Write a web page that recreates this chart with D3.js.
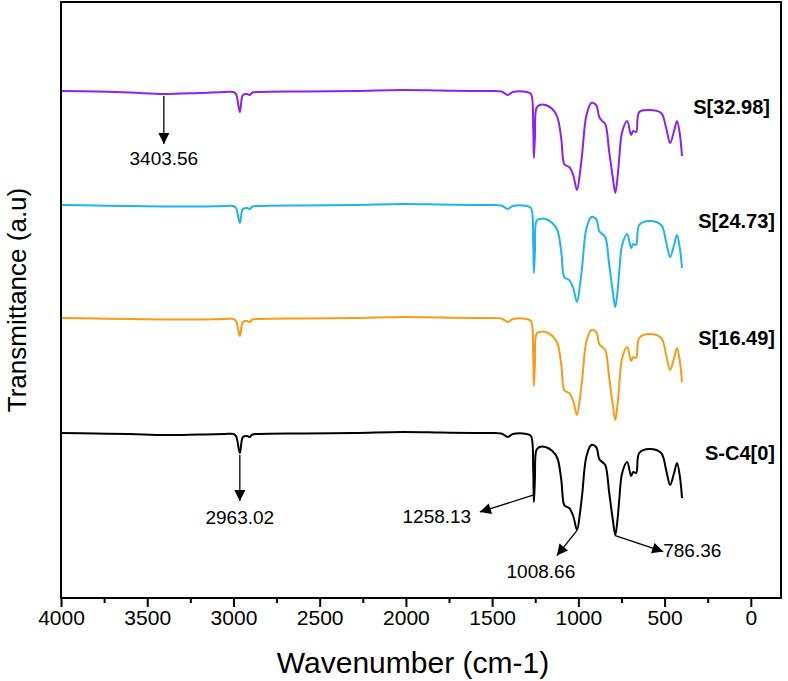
<!DOCTYPE html>
<html>
<head>
<meta charset="utf-8">
<script src="https://cdn.jsdelivr.net/npm/d3@7"></script>
<style>
  body { margin: 0; background: #fff; }
  text { font-family: "Liberation Sans", Arial, sans-serif; }
</style>
</head>
<body>
<div id="display"></div>
<script>
// FTIR spectra, wavenumber grid shared by all series
const wavenumbers = [4000, 3800, 3600, 3403, 3200, 3050, 3000, 2985, 2963, 2945, 2920, 2905, 2890, 2850,
    2600, 2300, 2020, 1800, 1600, 1500, 1440, 1411, 1380, 1300, 1275, 1262, 1258, 1252, 1243, 1225,
    1190, 1151, 1122, 1099, 1082, 1065, 1053, 1030, 1008, 990, 977, 954, 925, 897, 879, 862, 844,
    821, 800, 786, 772, 763, 746, 717, 694, 682, 665, 647, 589, 520, 491, 468, 445, 428, 411, 399];

const sc4 = [165, 164.5, 164, 163, 163.5, 164, 164, 162, 145, 161, 162, 161, 163.5, 164,
    164.5, 165, 166, 165.5, 165, 165, 164, 161, 164, 164, 162, 128, 96, 118, 148, 151,
    151, 147, 140, 118, 93, 91, 90, 82, 68, 86, 105, 141, 153, 151, 139, 136, 133,
    105, 78, 63, 80, 98, 125, 136, 122, 126, 125, 145, 149, 145, 128, 113, 125, 135, 121, 100];

const s1649 = [280, 279.5, 279, 278.5, 278.5, 279, 279, 277, 262, 276, 277, 276, 278.5, 279,
    279.5, 280, 281, 280.5, 280, 280, 279, 276, 279, 279, 277, 243, 212, 233, 264, 266,
    266, 262, 255, 233, 208, 206, 205, 197, 183, 201, 220, 256, 268, 266, 254, 251, 248,
    220, 193, 178, 195, 213, 240, 251, 237, 241, 240, 260, 264, 260, 243, 228, 240, 250, 236, 216];

const s2473 = [393, 392.5, 392, 391.5, 391.5, 392, 392, 390, 375, 389, 390, 389, 391.5, 392,
    392.5, 393, 394, 393.5, 393, 393, 392, 389, 392, 392, 390, 356, 325, 346, 377, 379,
    379, 375, 368, 346, 321, 319, 318, 310, 296, 314, 333, 369, 381, 379, 367, 364, 361,
    333, 306, 291, 308, 326, 353, 364, 350, 354, 353, 373, 377, 373, 356, 341, 353, 363, 349, 330];

const s3298 = [507, 506.5, 505.5, 504, 505, 506, 506, 504, 486, 503, 504, 503, 505.5, 506,
    506.5, 507, 508, 507.5, 507, 507, 506, 503, 506, 506, 504, 470, 440, 460, 490, 493,
    493, 489, 481, 459, 434, 432, 431, 423, 408, 426, 446, 482, 495, 493, 481, 477, 474,
    446, 420, 405, 422, 440, 466, 477, 463, 467, 466, 486, 488, 485, 470, 455, 467, 477, 463, 442];

const seriesNames = ["S-C4[0]", "S[16.49]", "S[24.73]", "S[32.98]"];
const seriesValues = [sc4, s1649, s2473, s3298];
const seriesColors = ["#000000", "#fb9a16", "#1db4f0", "#8c22f2"];

const xTicks = [4000, 3500, 3000, 2500, 2000, 1500, 1000, 500, 0];
const xMinor = [3750, 3250, 2750, 2250, 1750, 1250, 750, 250];

// peak annotations: [wavenumber, series index, label]
const peaks = [[3403.56, 3, "3403.56"], [2963.02, 0, "2963.02"], [1258.13, 0, "1258.13"],
    [1008.66, 0, "1008.66"], [786.36, 0, "786.36"]];

const W = 788, H = 681;
const plotL = 61, plotR = 781, plotT = 2, plotB = 598;

const svg = d3.select('#display')
    .append('svg')
    .attr('width', W)
    .attr('height', H);

const x = d3.scaleLinear().domain([4000, -175]).range([plotL, plotR]);
const y = d3.scaleLinear().domain([0, 596]).range([plotB, plotT]);

function valueAt(vals, w) {
    // read the series at wavenumber w from the grid
    for (let i = 0; i < wavenumbers.length - 1; i++) {
        const a = wavenumbers[i], b = wavenumbers[i + 1];
        if (w <= a && w >= b) {
            const t = (a - w) / (a - b);
            return vals[i] + t * (vals[i + 1] - vals[i]);
        }
    }
    return vals[vals.length - 1];
}

const line = d3.line()
    .x(d => x(d[0]))
    .y(d => y(d[1]))
    .curve(d3.curveCatmullRom.alpha(0.5));

for (let s = 0; s < seriesValues.length; s++) {
    const pts = wavenumbers.map((w, i) => [w, seriesValues[s][i]]);
    svg.append('path')
        .attr('d', line(pts))
        .attr('fill', 'none')
        .attr('stroke', seriesColors[s])
        .attr('stroke-width', 2)
        .attr('stroke-linejoin', 'round');
}

// frame
svg.append('rect')
    .attr('x', plotL)
    .attr('y', plotT)
    .attr('width', plotR - plotL)
    .attr('height', plotB - plotT)
    .attr('fill', 'none')
    .attr('stroke', 'black')
    .attr('stroke-width', 2);

// x axis
const xAxis = svg.append('g')
    .attr('transform', `translate(0, ${plotB})`)
    .call(d3.axisBottom(x).tickValues(xTicks).tickSize(9).tickPadding(3).tickFormat(d3.format('d')));
xAxis.select('.domain').remove();
xAxis.selectAll('line').attr('stroke-width', 2);
xAxis.selectAll('text')
    .attr('font-size', '21px')
    .attr('fill', 'black')
    .style('font-family', '"Liberation Sans", Arial, sans-serif');

const xMinorAxis = svg.append('g')
    .attr('transform', `translate(0, ${plotB})`)
    .call(d3.axisBottom(x).tickValues(xMinor).tickSize(5).tickFormat(''));
xMinorAxis.select('.domain').remove();
xMinorAxis.selectAll('line').attr('stroke-width', 2);

// axis titles
svg.append('text')
    .attr('x', 413)
    .attr('y', 673)
    .attr('text-anchor', 'middle')
    .attr('font-size', '30px')
    .text('Wavenumber (cm-1)');

svg.append('text')
    .attr('transform', `translate(26, ${(plotT + plotB) / 2}) rotate(-90)`)
    .attr('text-anchor', 'middle')
    .attr('font-size', '26px')
    .text('Transmittance (a.u)');

// series labels
const labelY = [455, 340, 223, 109];
const labelX = [775, 775, 775, 770];
for (let s = 0; s < seriesNames.length; s++) {
    svg.append('text')
        .attr('x', labelX[s])
        .attr('y', labelY[s])
        .attr('text-anchor', 'end')
        .attr('dominant-baseline', 'middle')
        .attr('font-size', '20px')
        .attr('font-weight', 'bold')
        .text(seriesNames[s]);
}

// peak arrows
const defs = svg.append('defs');
defs.append('marker')
    .attr('id', 'head')
    .attr('viewBox', '0 0 10 10')
    .attr('refX', 10)
    .attr('refY', 5)
    .attr('markerWidth', 13)
    .attr('markerHeight', 11)
    .attr('markerUnits', 'userSpaceOnUse')
    .attr('orient', 'auto')
    .append('path')
    .attr('d', 'M0,0 L10,5 L0,10 Z')
    .attr('fill', 'black');

// arrow offsets [dx1, dy1, dx2, dy2, textX, textY, anchor]
const arrowGeom = [
    [0, 2, 0, 50, 0, 66, 'middle'],
    [0, 2, 0, 48, 0, 66, 'middle'],
    [0, -6, -54, 11, -97, 17, 'middle'],
    [0, 1, -20, 26, -36, 43, 'middle'],
    [0, 1, 48, 17, 48, 17, 'start']
];

peaks.forEach((p, i) => {
    const px = x(p[0]);
    const py = y(valueAt(seriesValues[p[1]], p[0]));
    const g = arrowGeom[i];
    svg.append('line')
        .attr('x1', px + g[0])
        .attr('y1', py + g[1])
        .attr('x2', px + g[2])
        .attr('y2', py + g[3])
        .attr('stroke', 'black')
        .attr('stroke-width', 1.3)
        .attr('marker-end', 'url(#head)');
    svg.append('text')
        .attr('x', px + g[4])
        .attr('y', py + g[5])
        .attr('text-anchor', g[6])
        .attr('dominant-baseline', 'middle')
        .attr('font-size', '19px')
        .text(p[2]);
});
</script>
</body>
</html>
